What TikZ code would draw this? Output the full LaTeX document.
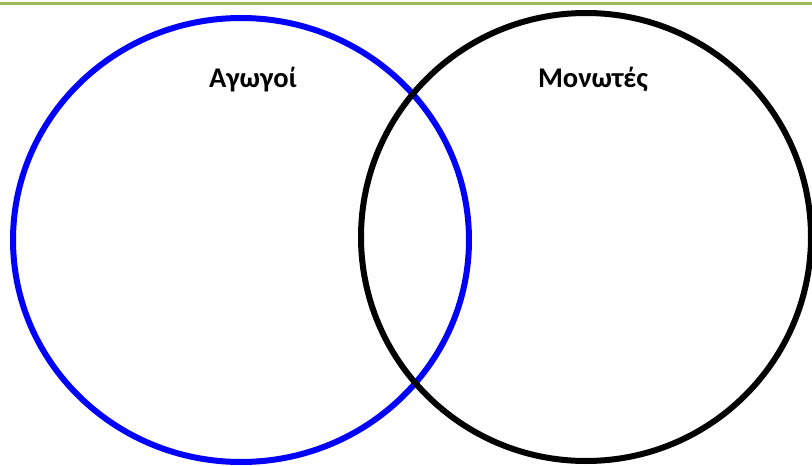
\documentclass[tikz,border=0pt]{standalone}
\usepackage{fontspec}
\setmainfont{Carlito}
\definecolor{topgreen}{HTML}{9BBB59}
\tikzset{
  setring/.style={line width=6pt},
  setlabel/.style={font=\fontsize{28.5}{34}\selectfont\bfseries, inner sep=0pt, anchor=base}
}
\begin{document}
\begin{tikzpicture}[x=1pt,y=1pt]
\useasboundingbox (0,0) rectangle (812,-466);
\clip (0,0) rectangle (812,-466);
\fill[white] (0,0) rectangle (812,-466);
\draw[topgreen, line width=3pt] (0,-3.5) -- (812,-3.5);
\draw[setring, blue] (241,-240) ellipse [x radius=228, y radius=222];
\draw[setring, black] (586,-237) ellipse [x radius=225, y radius=224];
\node[setlabel] (agogoi) at (253,-87) {Αγωγοί};
\node[setlabel] (monotes) at (593,-87) {Μονωτές};
\end{tikzpicture}
\end{document}
